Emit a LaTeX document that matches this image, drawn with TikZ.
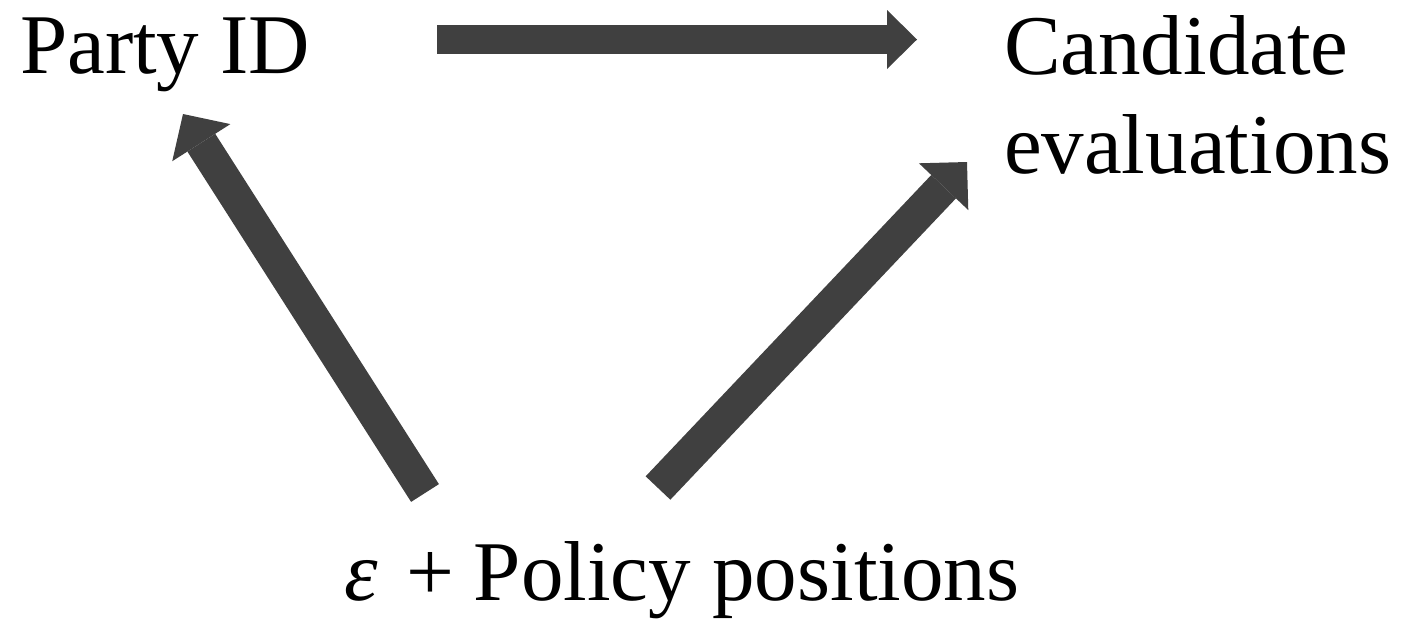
\documentclass[tikz,border=0pt]{standalone}
\usepackage{fontspec}
\setmainfont{Liberation Serif}
\usetikzlibrary{arrows.meta}
\definecolor{arrowgray}{HTML}{404040}
\begin{document}
\begin{tikzpicture}[x=0.5pt,y=-0.5pt,
  lbl/.style={inner sep=0pt, outer sep=0pt, font=\fontsize{42.5pt}{49.5pt}\selectfont, text=black},
  fatarrow/.style n args={3}{draw=arrowgray, line width=#1,
    -{Triangle[length=#2,width=#3,line width=0pt,fill=arrowgray]}}]
\useasboundingbox (0,0) rectangle (1407,618);
\node[lbl, anchor=base west] (party) at (20,73) {Party ID};
\node[lbl, anchor=base west, align=left] (cand) at (1004,173) {Candidate\\evaluations};
\node[lbl, anchor=base west] (policy) at (344,600) {{\itshape ε}\hspace{4pt} +\hspace{-1pt} Policy positions};
% arrow end points
\coordinate (pcTail) at (437,39.5);
\coordinate (pcTip) at (917,39.5);
\coordinate (ppTail) at (425,493);
\coordinate (ppTip) at (183,114);
\coordinate (pvTail) at (658,488);
\coordinate (pvTip) at (967,162);
\draw[fatarrow={14.5pt}{15pt}{29.5pt}] (pcTail) -- (pcTip);
\draw[fatarrow={16.5pt}{17pt}{34.5pt}] (ppTail) -- (ppTip);
\draw[fatarrow={17pt}{17pt}{34pt}] (pvTail) -- (pvTip);
\end{tikzpicture}
\end{document}
